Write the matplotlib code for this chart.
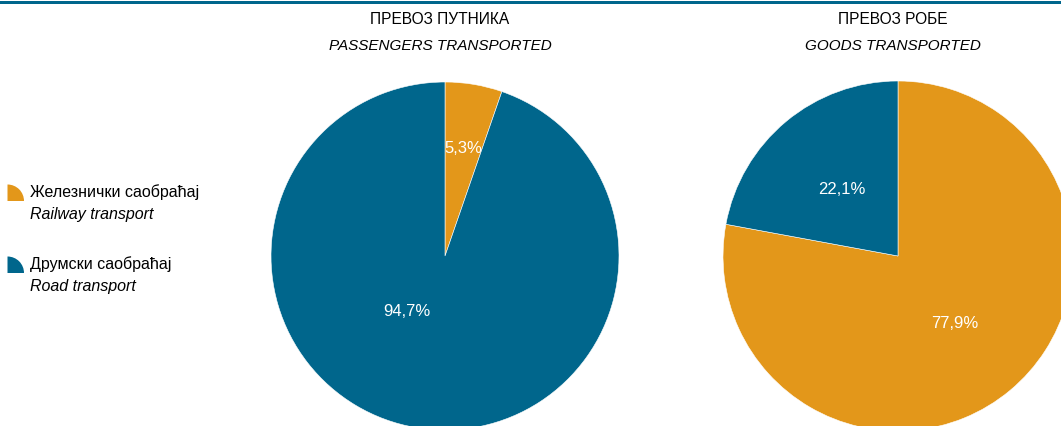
import matplotlib.pyplot as plt
from matplotlib.patches import Wedge, Rectangle

# data
categories = ['Железнички саобраћај', 'Друмски саобраћај']
categories_en = ['Railway transport', 'Road transport']
passengers = [5.3, 94.7]
goods = [77.9, 22.1]
titles = ['ПРЕВОЗ ПУТНИКА', 'ПРЕВОЗ РОБЕ']
titles_en = ['PASSENGERS TRANSPORTED', 'GOODS TRANSPORTED']

colors = ['#e3971a', '#00668c']
plt.rcParams['font.family'] = ['Liberation Sans', 'DejaVu Sans']

W, H = 1061, 426
fig = plt.figure(figsize=(W / 100, H / 100), dpi=100)

# top rule
fig.add_artist(Rectangle((0, 1 - 4 / H), 1, 3 / H, transform=fig.transFigure,
                         color='#00668c', lw=0))


def pie_axes(cx, cy, r):
    # cx, cy, r in pixels from top-left
    ax = fig.add_axes([(cx - r) / W, (H - cy - r) / H, 2 * r / W, 2 * r / H])
    return ax


def fmt(v):
    return f'{v:.1f}%'.replace('.', ',')


ax1 = pie_axes(445, 256, 174)
ax1.pie(passengers, colors=colors, startangle=90, counterclock=False,
        wedgeprops=dict(edgecolor='white', linewidth=0.4), frame=True)
ax1.set_xlim(-1, 1)
ax1.set_ylim(-1, 1)
ax1.axis('off')
# label positions (fraction of radius)
for v, (x, y) in zip(passengers, [(0.105, 0.62), (-0.22, -0.32)]):
    ax1.text(x, y, fmt(v), color='white', fontsize=12, ha='center', va='center')

ax2 = pie_axes(898, 256, 175)
ax2.pie(goods, colors=colors, startangle=90, counterclock=False,
        wedgeprops=dict(edgecolor='white', linewidth=0.4), frame=True)
ax2.set_xlim(-1, 1)
ax2.set_ylim(-1, 1)
ax2.axis('off')
for v, (x, y) in zip(goods, [(0.325, -0.385), (-0.32, 0.38)]):
    ax2.text(x, y, fmt(v), color='white', fontsize=12, ha='center', va='center')

# titles
for cx, t, te in zip([440, 893], titles, titles_en):
    fig.text(cx / W, 1 - 20 / H, t, ha='center', va='center', fontsize=11.2)
    fig.text(cx / W, 1 - 46 / H, te, ha='center', va='center', fontsize=11,
             style='italic')

# legend
for i, (c, lab, lab_en) in enumerate(zip(colors, categories, categories_en)):
    y0 = 192 + i * 72
    w = Wedge((0.075, (H - y0 - 9) / 100), 0.165, 0, 90,
              transform=fig.dpi_scale_trans, color=c, lw=0)
    fig.add_artist(w)
    fig.text(30 / W, 1 - y0 / H, lab, ha='left', va='center', fontsize=11.5)
    fig.text(30 / W, 1 - (y0 + 23) / H, lab_en, ha='left', va='center',
             fontsize=11.5, style='italic')

fig.savefig('out.png', dpi=100, facecolor='white')
